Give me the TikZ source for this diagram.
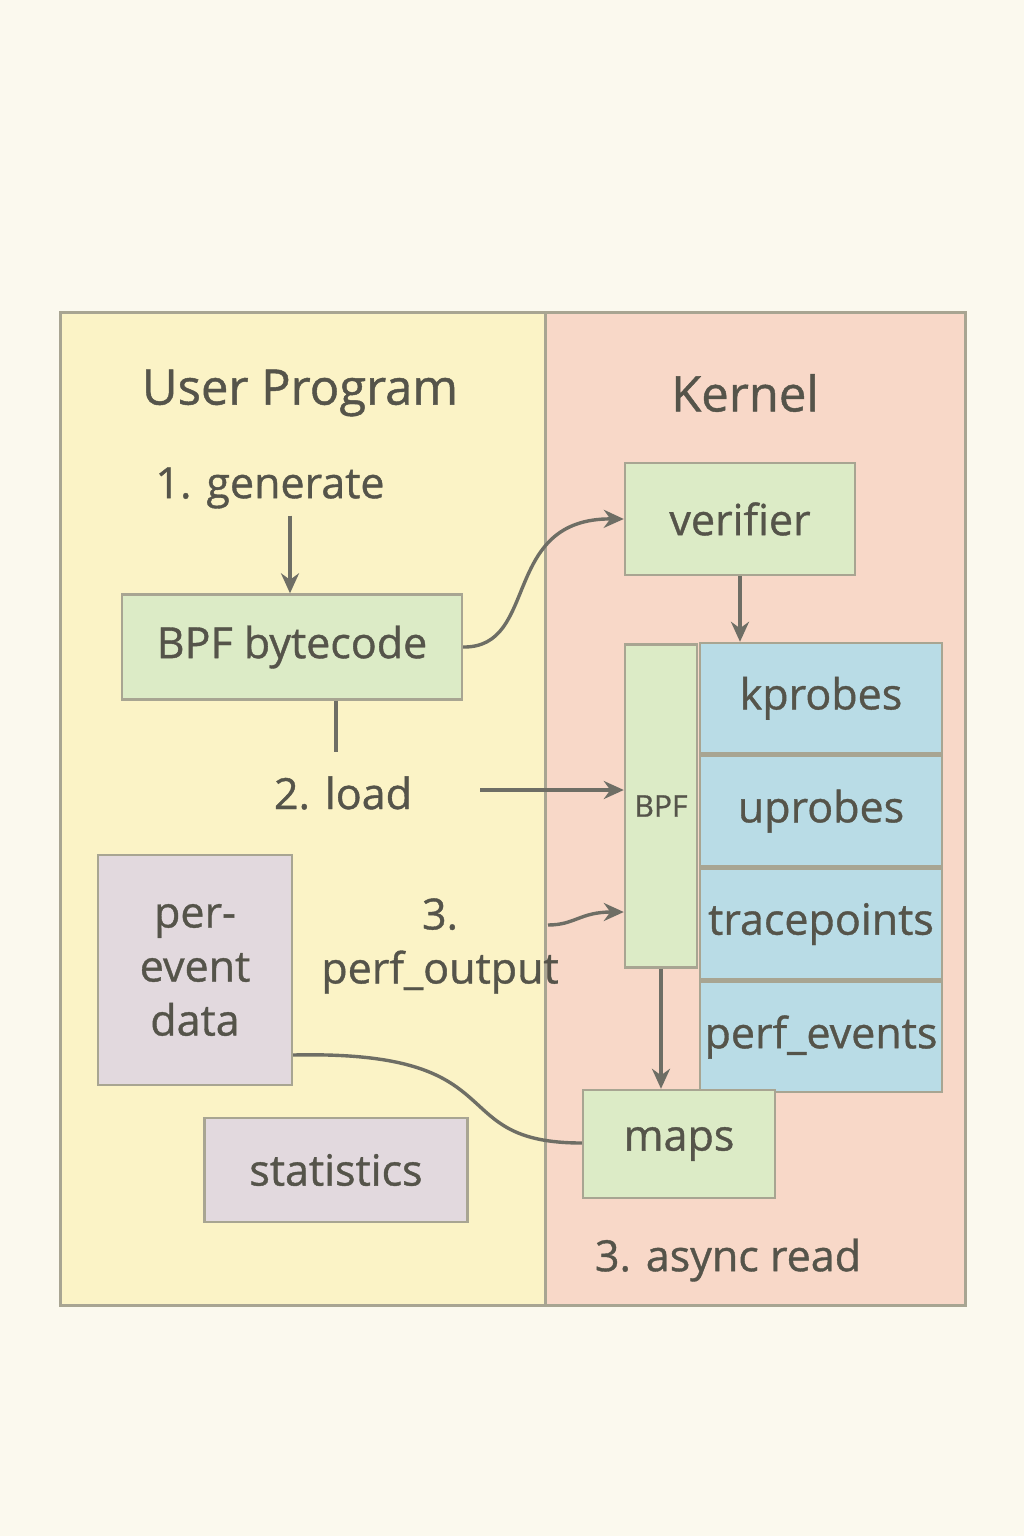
\documentclass[tikz,border=0pt]{standalone}
\usepackage{fontspec}
\setmainfont{Open Sans}[FakeBold=0.9]
\usetikzlibrary{arrows.meta}
\definecolor{paper}{HTML}{FBF9EE}
\definecolor{userbg}{HTML}{FBF3C6}
\definecolor{kernbg}{HTML}{F8D8C8}
\definecolor{boxgreen}{HTML}{DCEBC6}
\definecolor{boxblue}{HTML}{B9DCE6}
\definecolor{boxlilac}{HTML}{E2D9DE}
\definecolor{edge}{HTML}{A8A592}
\definecolor{ink}{HTML}{55544A}
\newcommand{\lbl}{\fontsize{21.5}{27}\selectfont}

\begin{document}
\begin{tikzpicture}[x=0.5pt,y=-0.5pt,
	panel/.style={draw=edge,line width=1.5pt},
	box/.style={draw=edge,line width=1.2pt,text=ink,font=\lbl,inner sep=0pt},
	txt/.style={text=ink,font=\lbl,align=center},
	conn/.style={draw=ink!85,line width=1.7pt},
	arr/.style={conn,-{Stealth[length=10pt,width=9pt]}}]
		\fill[paper] (0,0) rectangle (1024,1536);
		\useasboundingbox (0,0) rectangle (1024,1536);
		\draw[panel,fill=userbg] (60,312) rectangle (545,1305);%user side
		\draw[panel,fill=kernbg] (545,312) rectangle (965,1305);%kernel side
		
		\node[txt,font=\fontsize{24.5}{28}\selectfont] (user) at (300,393) {User Program};
		\node[txt,font=\fontsize{24.5}{28}\selectfont] (kernel) at (745,393) {Kernel};
		\node[txt] (gen) at (270,488) {1. generate};
		\node[txt] (load) at (343,793) {2. load};
		\node[txt] (perfout) at (440,946) {3.\\perf\_output};
		\node[txt] (async) at (728,1260) {3. async read};
		
		\node[box,fill=boxgreen,minimum width=170pt,minimum height=52.5pt] (bytecode) at (292,647) {BPF bytecode};
		\node[box,fill=boxgreen,minimum width=115pt,minimum height=56pt] (verifier) at (740,519) {verifier};
		\node[box,fill=boxgreen,minimum width=36pt,minimum height=161.5pt,font=\fontsize{15}{18}\selectfont] (bpf) at (661,806) {BPF};
		\node[box,fill=boxblue,minimum width=121pt,minimum height=55.25pt] (kprobes) at (821,698.25) {kprobes};
		\node[box,fill=boxblue,minimum width=121pt,minimum height=55.25pt,anchor=north] (uprobes) at (kprobes.south) {uprobes};
		\node[box,fill=boxblue,minimum width=121pt,minimum height=55.25pt,anchor=north] (tracepoints) at (uprobes.south) {tracepoints};
		\node[box,fill=boxblue,minimum width=121pt,minimum height=55.25pt,anchor=north] (perfevents) at (tracepoints.south) {perf\_events};
		\node[box,fill=boxlilac,minimum width=97pt,minimum height=115pt,align=center] (data) at (195,970) {per-\\event\\data};
		\node[box,fill=boxlilac,minimum width=131.5pt,minimum height=52pt] (stats) at (336,1170) {statistics};
		\node[box,fill=boxgreen,minimum width=96pt,minimum height=54pt] (maps) at (679,1144) {maps};
		
		\coordinate (loadstart) at (480,790);
		\coordinate (perfstart) at (548,925);
		\draw[arr] (gen.south -| 290,0) -- (bytecode.north -| 290,0);
		\draw[arr] (bytecode.east) .. controls (540,648) and (500,518) .. (verifier.west);
		\draw[arr] (verifier.south) -- (kprobes.north -| verifier.south);
		\draw[conn] (bytecode.south -| 336,0) -- (336,752);
		\draw[arr] (loadstart) -- (loadstart -| bpf.west);
		\draw[arr] (perfstart) .. controls (575,925) and (580,912) .. (bpf.west |- 0,912);
		\draw[arr] (bpf.south) -- (maps.north -| bpf.south);
		\draw[conn] (data.east |- 0,1055) .. controls (520,1050) and (440,1143) .. (maps.west |- 0,1143);
\end{tikzpicture}
\end{document}
